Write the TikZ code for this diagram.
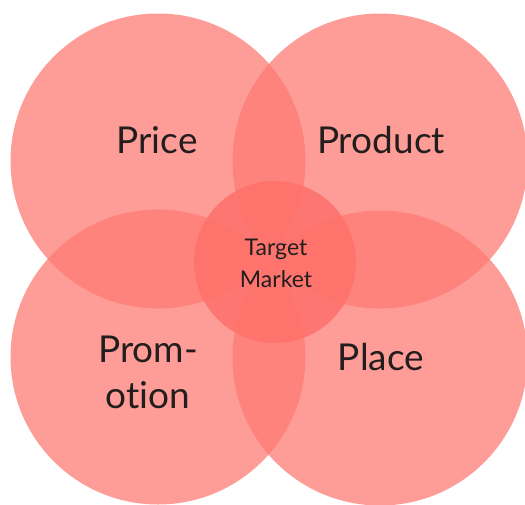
\documentclass[tikz,border=0pt]{standalone}
\usepackage{fontspec}
\setmainfont{Lato}[Ligatures=NoCommon]
\definecolor{petal}{RGB}{254,123,116}
\definecolor{hub}{RGB}{255,114,108}
\definecolor{ink}{RGB}{34,30,30}
\begin{document}
\begin{tikzpicture}[x=1pt,y=-1pt,
  petalcircle/.style={circle, fill=petal, fill opacity=0.75, draw=none, inner sep=0pt, minimum size=295pt},
  hubcircle/.style={circle, fill=hub, fill opacity=0.88, draw=none, inner sep=0pt, minimum size=162pt},
  biglabel/.style={text=ink, anchor=base, font=\fontsize{37}{46}\selectfont, align=center},
  smalllabel/.style={text=ink, anchor=base, font=\fontsize{23}{32}\selectfont, align=center}]
\useasboundingbox (0,0) rectangle (525,504);
% the four marketing-mix circles
\node[petalcircle] (price) at (158,161) {};
\node[petalcircle] (product) at (380,161) {};
\node[petalcircle] (promotion) at (158,357) {};
\node[petalcircle] (place) at (380,358) {};
% the target market in the middle
\node[hubcircle] (target) at (275,262) {};
% labels
\node[biglabel] (pricetext) at (157,153) {Price};
\node[biglabel] (producttext) at (381,153) {Product};
\node[biglabel] (promtext) at (148,362) {Prom-};
\node[biglabel] (otiontext) at (148,408) {otion};
\node[biglabel] (placetext) at (381,370) {Place};
\node[smalllabel] (targettext) at (276,255) {Target};
\node[smalllabel] (markettext) at (276,287) {Market};
\end{tikzpicture}
\end{document}
